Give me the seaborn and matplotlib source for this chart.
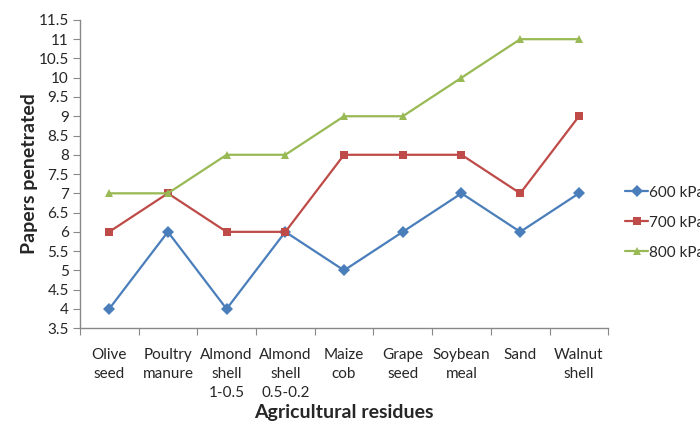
import pandas as pd
import numpy as np
import matplotlib.pyplot as plt
import seaborn as sns

# Data
residues = ['Olive\nseed', 'Poultry\nmanure', 'Almond\nshell\n1-0.5', 'Almond\nshell\n0.5-0.2',
            'Maize\ncob', 'Grape\nseed', 'Soybean\nmeal', 'Sand', 'Walnut\nshell']
p600 = [4, 6, 4, 6, 5, 6, 7, 6, 7]
p700 = [6, 7, 6, 6, 8, 8, 8, 7, 9]
p800 = [7, 7, 8, 8, 9, 9, 10, 11, 11]
series = ['600 kPa', '700 kPa', '800 kPa']

df = pd.DataFrame({'pos': list(range(len(residues))) * 3,
                   'papers': p600 + p700 + p800,
                   'pressure': np.repeat(series, len(residues))})

sns.set_style('white')
plt.rcParams['font.family'] = ['Lato', 'DejaVu Sans']

fig = plt.figure(figsize=(7, 4.24), dpi=100)
ax = fig.add_axes([0.114, 0.226, 0.755, 0.727])

palette = {'600 kPa': '#4A7EBB', '700 kPa': '#BE4B48', '800 kPa': '#98B954'}
markers = {'600 kPa': 'D', '700 kPa': 's', '800 kPa': '^'}
sns.lineplot(data=df, x='pos', y='papers', hue='pressure', style='pressure',
             palette=palette, markers=markers, dashes=False, markersize=6,
             markeredgewidth=0, linewidth=1.6, ax=ax)

ax.set_xlim(-0.5, len(residues) - 0.5)
ax.set_ylim(3.5, 11.5)
ax.set_yticks(np.arange(3.5, 11.6, 0.5))
ax.set_yticklabels([f'{v:g}' for v in np.arange(3.5, 11.6, 0.5)], fontsize=11)
ax.set_xticks(np.arange(-0.5, len(residues), 1.0))
ax.set_xticklabels([])
ax.set_xticks(range(len(residues)), minor=True)
ax.set_xticklabels(residues, minor=True, fontsize=11, linespacing=1.45, va='top')
ax.tick_params(axis='x', which='minor', length=0, pad=14)
ax.tick_params(axis='x', which='major', length=5, color='#888888', direction='out', bottom=True)
ax.tick_params(axis='y', length=5, color='#888888', direction='out', left=True, pad=3)

for s in ['top', 'right']:
    ax.spines[s].set_visible(False)
for s in ['left', 'bottom']:
    ax.spines[s].set_color('#888888')
    ax.spines[s].set_linewidth(1)

ax.set_xlabel('Agricultural residues', fontsize=14, fontweight='bold', labelpad=3)
ax.set_ylabel('Papers penetrated', fontsize=14, fontweight='bold', labelpad=0)

h, l = ax.get_legend_handles_labels()
ax.legend(h, l, loc='center left', bbox_to_anchor=(0.893, 0.475),
          bbox_transform=fig.transFigure, frameon=False, fontsize=11,
          handlelength=1.5, handletextpad=0.05, labelspacing=1.05,
          borderpad=0, borderaxespad=0)

plt.savefig('out.png', dpi=100)
